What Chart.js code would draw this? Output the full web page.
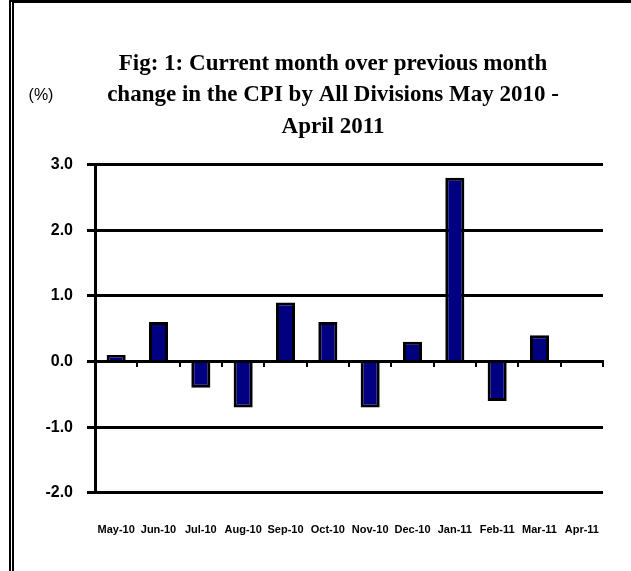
<!DOCTYPE html>
<html>
<head>
<meta charset="utf-8">
<script src="https://cdn.jsdelivr.net/npm/chart.js@4.4.1/dist/chart.umd.min.js"></script>
<style>
    body { margin: 0; background: #fff; }
    #wrap { position: relative; width: 631px; height: 571px; }
    #frame {
        position: absolute; left: 9px; top: 0; right: 0; bottom: 0;
        border-top: 3px solid #000; border-left: 5px double #000;
        pointer-events: none;
    }
</style>
</head>
<body>
<div id="wrap">
    <canvas id="chartCpi" width="631" height="571"></canvas>
    <div id="frame"></div>
</div>
<script>
const months = ['May-10', 'Jun-10', 'Jul-10', 'Aug-10', 'Sep-10', 'Oct-10', 'Nov-10', 'Dec-10', 'Jan-11', 'Feb-11', 'Mar-11', 'Apr-11']
const cpiChange = [0.1, 0.6, -0.4, -0.7, 0.9, 0.6, -0.7, 0.3, 2.8, -0.6, 0.4, 0]
const titleLines = ['Fig: 1: Current month over previous month', 'change in the CPI by All Divisions May 2010 -', 'April 2011']
const unitLabel = '(%)'
const yMin = -2
const yMax = 3

const ctx = document.querySelector('#chartCpi').getContext('2d')

// "(%)" sits left of the title's second line
const unitPlugin = {
    id: 'unitLabel',
    afterDraw(chart){
        const c = chart.ctx
        c.save()
        c.font = '16px "Liberation Sans", Arial, sans-serif'
        c.fillStyle = '#000'
        c.textAlign = 'center'
        c.textBaseline = 'middle'
        c.fillText(unitLabel, chart.chartArea.left - 54, 96)
        c.restore()
    }
}

new Chart(ctx, {
    type: 'bar',
    data: {
        labels: months,
        datasets: [{
            label: 'CPI change',
            data: cpiChange,
            backgroundColor: '#000080',
            borderColor: '#000',
            borderWidth: 3,
            barPercentage: 0.45,
            categoryPercentage: 1
        }]
    },
    options: {
        responsive: false,
        animation: false,
        events: [],
        layout: {
            padding: { left: 35, right: 0, top: 0, bottom: 11 }
        },
        plugins: {
            legend: { display: false },
            tooltip: { enabled: false },
            title: {
                display: true,
                text: titleLines,
                color: '#000',
                font: { family: '"Liberation Serif", "Times New Roman", serif', size: 23, weight: 'bold', lineHeight: 1.37 },
                padding: { top: 48, bottom: 22 }
            }
        },
        scales: {
            x: {
                grid: { display: false },
                border: { display: false },
                ticks: {
                    color: '#000',
                    font: { family: '"Liberation Sans", Arial, sans-serif', size: 11, weight: 'bold' },
                    padding: 23,
                    maxRotation: 0,
                    autoSkip: false
                }
            },
            x2: {
                type: 'category',
                labels: months,
                position: { y: 0 },
                offset: true,
                grid: { display: true, offset: true, drawOnChartArea: false, tickLength: 4, color: '#000', lineWidth: 2 },
                border: { display: true, color: '#000', width: 3 },
                ticks: { display: false }
            },
            y: {
                min: yMin,
                max: yMax,
                afterFit(scale){ scale.width = 60 },
                grid: { color: '#000', lineWidth: 3, tickLength: 8 },
                border: { display: true, color: '#000', width: 3 },
                ticks: {
                    stepSize: 1,
                    color: '#000',
                    padding: 14,
                    font: { family: '"Liberation Sans", Arial, sans-serif', size: 16, weight: 'bold' },
                    callback: v => v.toFixed(1)
                }
            },
            // empty right axis only keeps the plot clear of the right edge
            yRight: {
                position: 'right',
                min: yMin,
                max: yMax,
                afterFit(scale){ scale.width = 28 },
                grid: { display: false },
                border: { display: false },
                ticks: { display: false }
            }
        }
    },
    plugins: [unitPlugin]
})
</script>
</body>
</html>
